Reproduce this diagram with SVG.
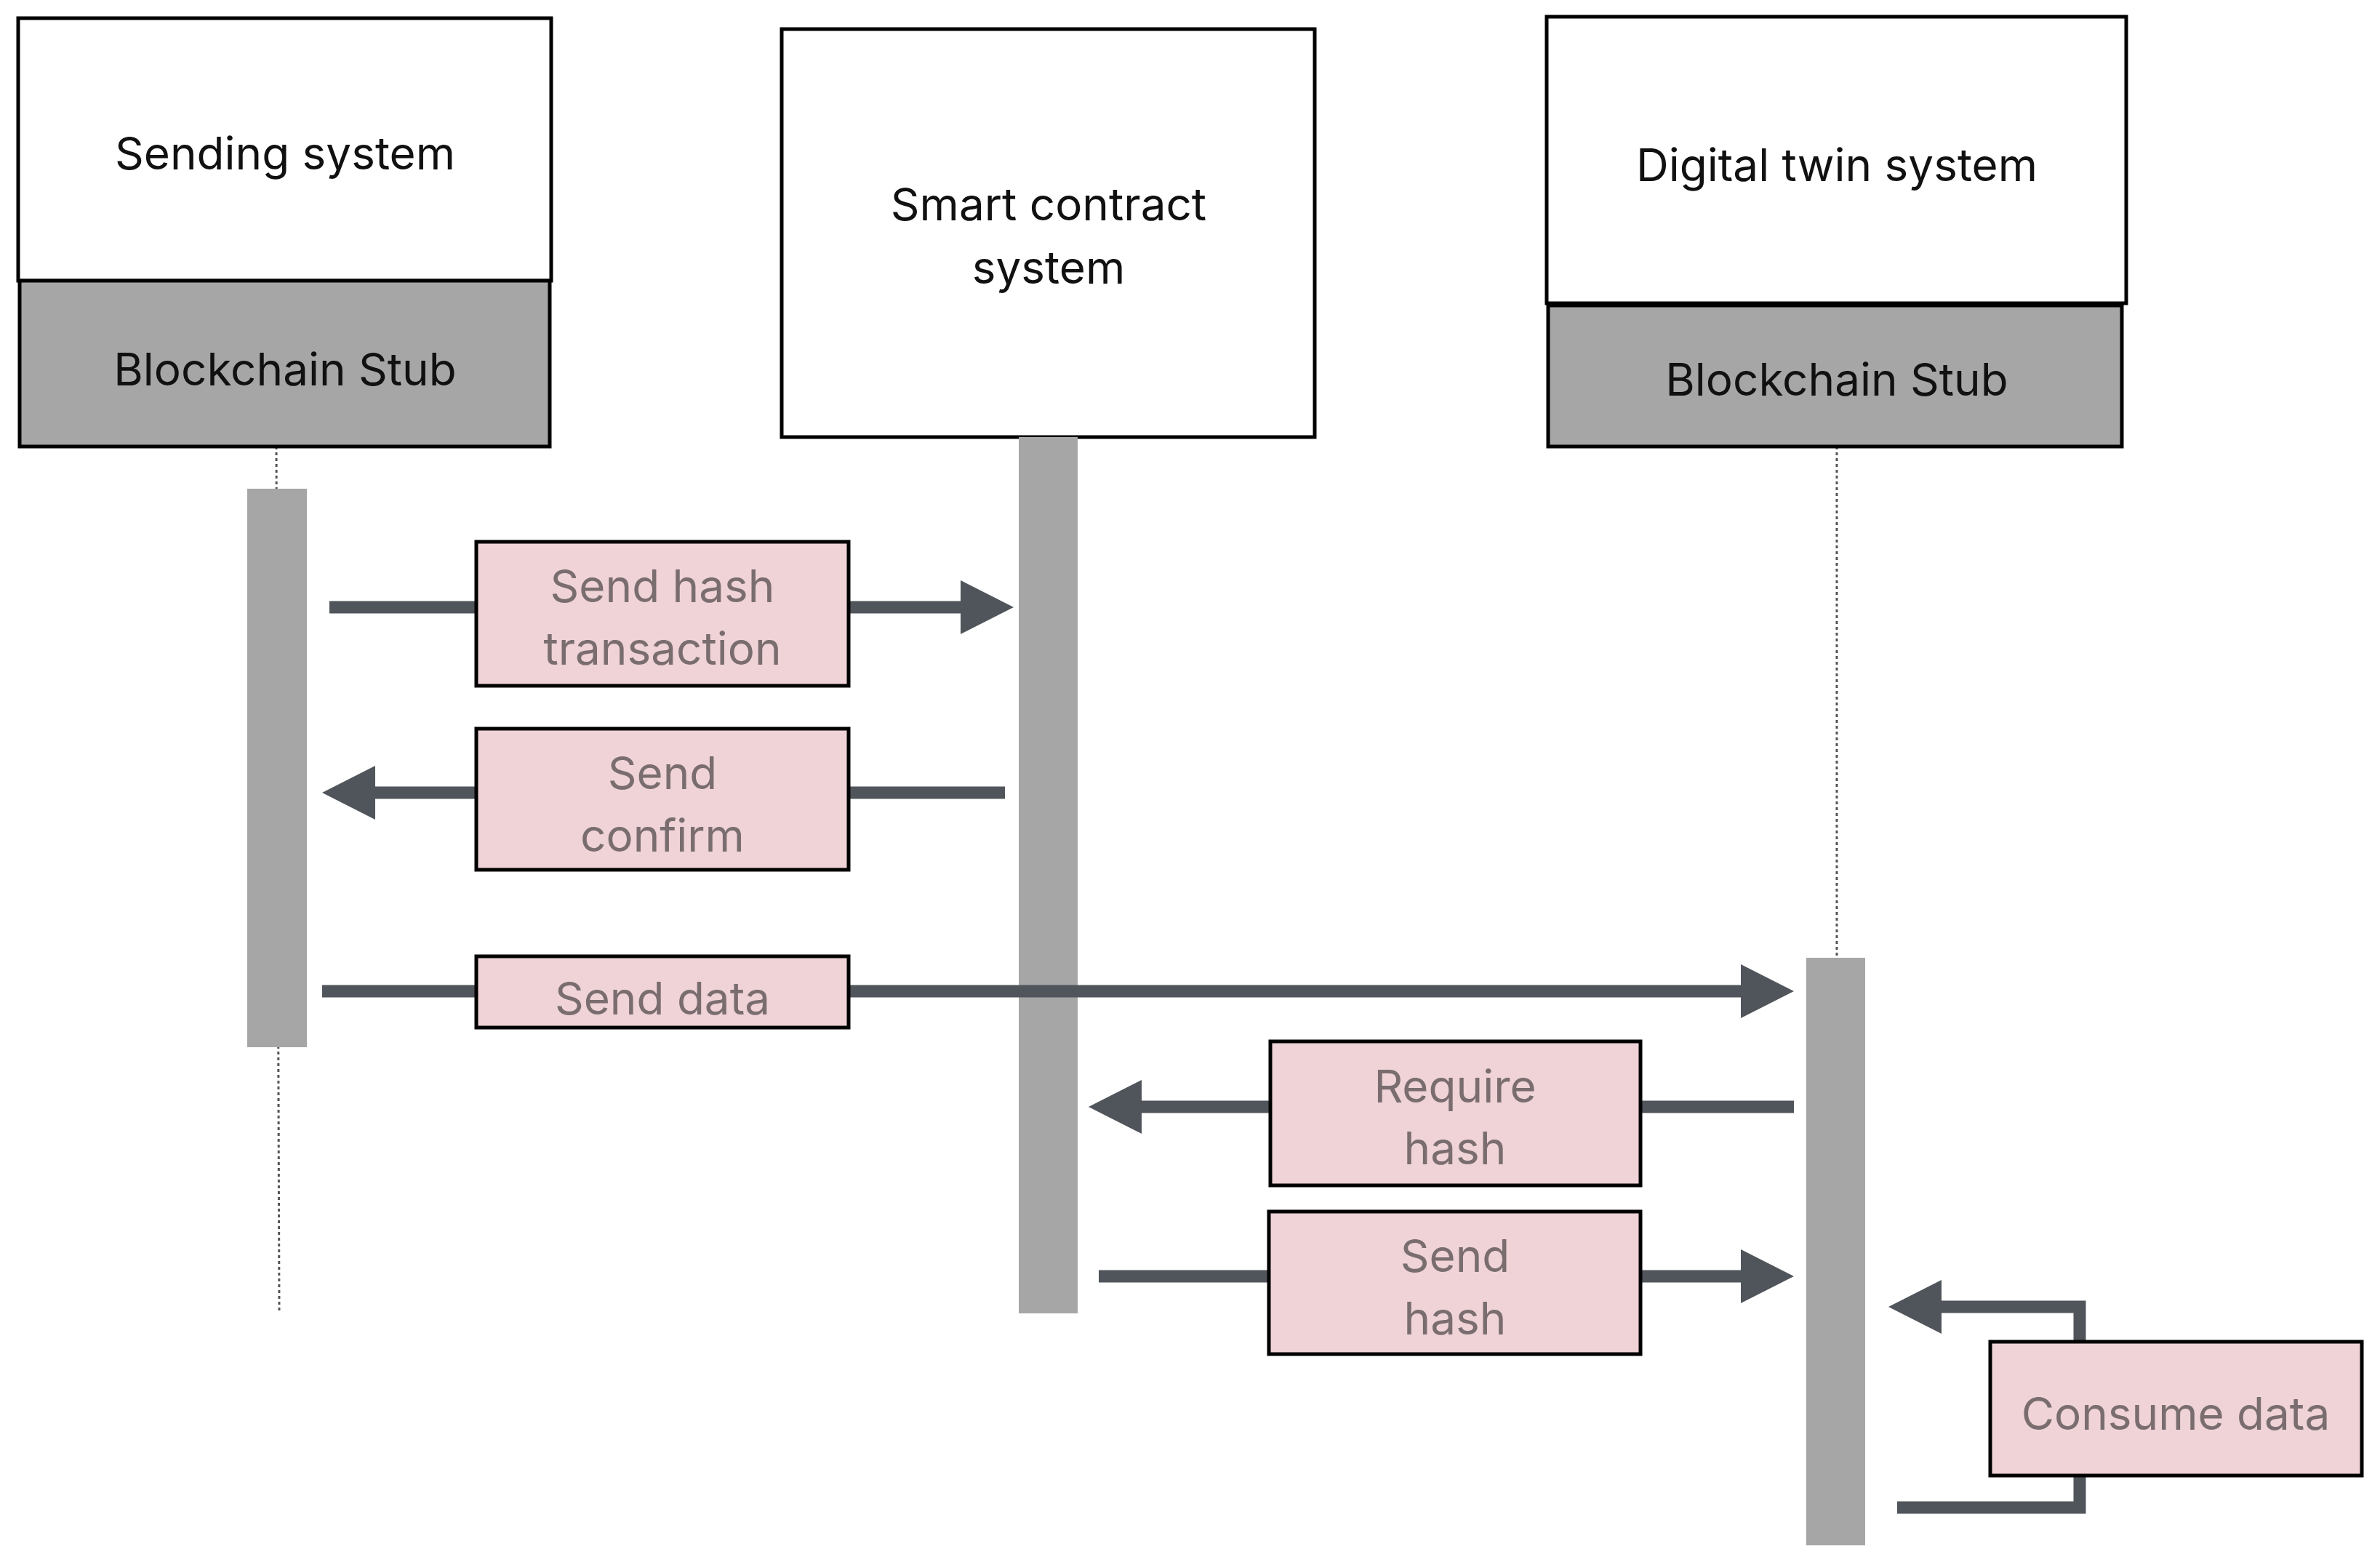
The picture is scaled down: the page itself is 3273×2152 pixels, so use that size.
<svg xmlns="http://www.w3.org/2000/svg" width="3273" height="2152" viewBox="0 0 3273 2152">
<style>
.hdr{fill:#fff;stroke:#000;stroke-width:5}
.stub{fill:#a6a6a6;stroke:#000;stroke-width:5}
.t{font-family:Inter,"Noto Sans",sans-serif;font-size:62px;fill:#111;text-anchor:middle}
.lbl{fill:#efd3d6;stroke:#000;stroke-width:5}
.lt{font-family:Inter,"Noto Sans",sans-serif;font-size:62px;fill:#7a6d70;text-anchor:middle}
.bar{fill:#a6a6a6}
.life{stroke:#555;stroke-width:3;stroke-dasharray:4 4;fill:none}
.ln{stroke:#50555b;stroke-width:17;fill:none}
.ah{fill:#50555b}
</style>
<rect width="3273" height="2152" fill="#fff"/>
<g id="lifelines">
<line class="life" x1="380" y1="614" x2="384" y2="1806"/>
<line class="life" x1="2526" y1="614" x2="2526" y2="1317"/>
</g>
<g id="sending">
<rect class="hdr" x="25" y="25" width="733" height="361"/>
<text class="t" x="392" y="233">Sending system</text>
<rect class="stub" x="27" y="386" width="729" height="228"/>
<text class="t" x="392" y="530">Blockchain Stub</text>
<rect class="bar" x="340" y="672" width="82" height="768"/>
</g>
<g id="smart">
<rect class="hdr" x="1075" y="40" width="733" height="561"/>
<text class="t" x="1442" y="303">Smart contract</text>
<text class="t" x="1442" y="390">system</text>
<rect class="bar" x="1401" y="601" width="81" height="1205"/>
</g>
<g id="twin">
<rect class="hdr" x="2127" y="23" width="797" height="394"/>
<text class="t" x="2526" y="249">Digital twin system</text>
<rect class="stub" x="2129" y="420" width="789" height="194"/>
<text class="t" x="2526" y="544">Blockchain Stub</text>
<rect class="bar" x="2484" y="1317" width="81" height="808"/>
</g>
<g id="connectors">
<line class="ln" x1="453" y1="835" x2="1330" y2="835"/>
<polygon class="ah" points="1394,835 1321,798 1321,872"/>
<line class="ln" x1="1382" y1="1090" x2="505" y2="1090"/>
<polygon class="ah" points="443,1090 516,1053 516,1127"/>
<line class="ln" x1="443" y1="1363" x2="2400" y2="1363"/>
<polygon class="ah" points="2467,1363 2394,1326 2394,1400"/>
<line class="ln" x1="2467" y1="1522" x2="1560" y2="1522"/>
<polygon class="ah" points="1497,1522 1570,1485 1570,1559"/>
<line class="ln" x1="1511" y1="1755" x2="2400" y2="1755"/>
<polygon class="ah" points="2467,1755 2394,1718 2394,1792"/>
<polyline class="ln" points="2609,2073 2860,2073 2860,1797 2660,1797"/>
<polygon class="ah" points="2597,1797 2670,1760 2670,1834"/>
</g>
<g id="l1"><rect class="lbl" x="655" y="745" width="512" height="198"/><text class="lt" x="911" y="828">Send hash</text><text class="lt" x="911" y="914">transaction</text></g>
<g id="l2"><rect class="lbl" x="655" y="1002" width="512" height="194"/><text class="lt" x="911" y="1085">Send</text><text class="lt" x="911" y="1171">confirm</text></g>
<g id="l3"><rect class="lbl" x="655" y="1315" width="512" height="98"/><text class="lt" x="911" y="1395">Send data</text></g>
<g id="l4"><rect class="lbl" x="1747" y="1432" width="509" height="198"/><text class="lt" x="2001" y="1516">Require</text><text class="lt" x="2001" y="1601">hash</text></g>
<g id="l5"><rect class="lbl" x="1745" y="1666" width="511" height="196"/><text class="lt" x="2001" y="1749">Send</text><text class="lt" x="2001" y="1835">hash</text></g>
<g id="l6"><rect class="lbl" x="2737" y="1845" width="511" height="184"/><text class="lt" x="2992" y="1966">Consume data</text></g>
</svg>
